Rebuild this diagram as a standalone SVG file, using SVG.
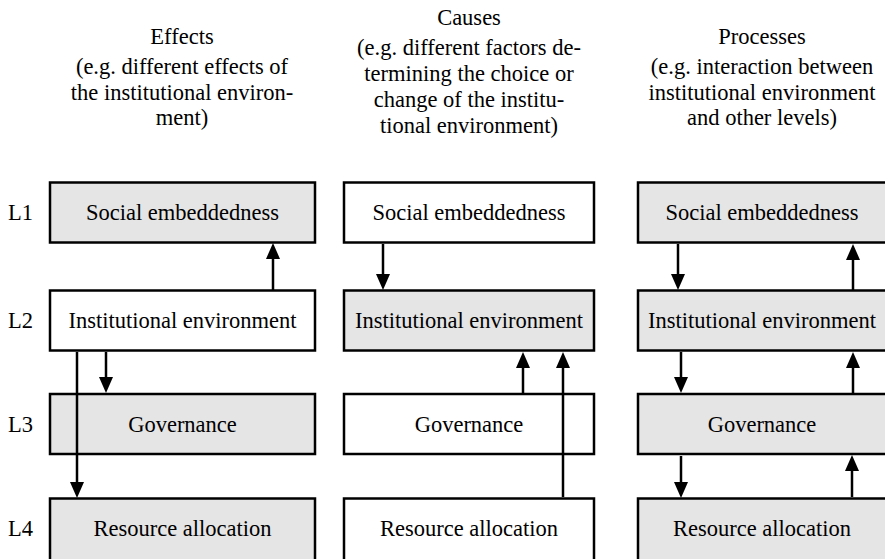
<svg xmlns="http://www.w3.org/2000/svg" width="885" height="559" viewBox="0 0 885 559">
  <style>
    text { font-family: "Liberation Serif", Tinos, "Times New Roman", "DejaVu Serif", serif; font-size: 22.5px; fill: #000; }
    .c { text-anchor: middle; }
    .box { stroke: #000; stroke-width: 2.5; }
    .grey { fill: #e5e5e5; }
    .white { fill: #fff; }
    .arr { stroke: #000; stroke-width: 2.5; fill: none; marker-end: url(#head); }
  </style>
  <defs>
    <marker id="head" markerUnits="userSpaceOnUse" markerWidth="16" markerHeight="14" viewBox="0 0 16 14" refX="1" refY="7" orient="auto">
      <path d="M0,0 L16,7 L0,14 Z" fill="#000"/>
    </marker>
  </defs>
  <rect width="885" height="559" fill="#fff"/>

  <!-- column headings -->
  <g id="head-effects">
    <text class="c" x="182" y="44">Effects</text>
    <text class="c" x="182" y="74">(e.g. different effects of</text>
    <text class="c" x="182" y="100">the institutional environ-</text>
    <text class="c" x="182" y="125">ment)</text>
  </g>
  <g id="head-causes">
    <text class="c" x="469" y="25">Causes</text>
    <text class="c" x="469" y="55">(e.g. different factors de-</text>
    <text class="c" x="469" y="81">termining the choice or</text>
    <text class="c" x="469" y="107">change of the institu-</text>
    <text class="c" x="469" y="133">tional environment)</text>
  </g>
  <g id="head-processes">
    <text class="c" x="762" y="44">Processes</text>
    <text class="c" x="762" y="74">(e.g. interaction between</text>
    <text class="c" x="762" y="100">institutional environment</text>
    <text class="c" x="762" y="125">and other levels)</text>
  </g>

  <!-- level labels -->
  <g id="levels">
    <text x="8" y="220">L1</text>
    <text x="8" y="328">L2</text>
    <text x="8" y="432">L3</text>
    <text x="8" y="536">L4</text>
  </g>

  <!-- Effects column -->
  <g id="e-l1"><rect class="box grey" x="50" y="182.5" width="265" height="60"/><text class="c" x="182.5" y="220">Social embeddedness</text></g>
  <g id="e-l2"><rect class="box white" x="50" y="290.5" width="265" height="60"/><text class="c" x="182.5" y="328">Institutional environment</text></g>
  <g id="e-l3"><rect class="box grey" x="50" y="394" width="265" height="60"/><text class="c" x="182.5" y="432">Governance</text></g>
  <g id="e-l4"><rect class="box grey" x="50" y="498.5" width="265" height="70"/><text class="c" x="182.5" y="536">Resource allocation</text></g>

  <!-- Causes column -->
  <g id="c-l1"><rect class="box white" x="344" y="182.5" width="250" height="60"/><text class="c" x="469" y="220">Social embeddedness</text></g>
  <g id="c-l2"><rect class="box grey" x="344" y="290.5" width="250" height="60"/><text class="c" x="469" y="328">Institutional environment</text></g>
  <g id="c-l3"><rect class="box white" x="344" y="394" width="250" height="60"/><text class="c" x="469" y="432">Governance</text></g>
  <g id="c-l4"><rect class="box white" x="344" y="498.5" width="250" height="70"/><text class="c" x="469" y="536">Resource allocation</text></g>

  <!-- Processes column -->
  <g id="p-l1"><rect class="box grey" x="638" y="182.5" width="250" height="60"/><text class="c" x="762" y="220">Social embeddedness</text></g>
  <g id="p-l2"><rect class="box grey" x="638" y="290.5" width="250" height="60"/><text class="c" x="762" y="328">Institutional environment</text></g>
  <g id="p-l3"><rect class="box grey" x="638" y="394" width="250" height="60"/><text class="c" x="762" y="432">Governance</text></g>
  <g id="p-l4"><rect class="box grey" x="638" y="498.5" width="250" height="70"/><text class="c" x="762" y="536">Resource allocation</text></g>

  <!-- connectors -->
  <g id="connectors">
    <path class="arr" d="M273,290 V258"/>
    <path class="arr" d="M106,352 V378"/>
    <path class="arr" d="M77,352 V483"/>

    <path class="arr" d="M383,244 V275"/>
    <path class="arr" d="M523,393 V367"/>
    <path class="arr" d="M563,497 V367"/>

    <path class="arr" d="M678,244 V275"/>
    <path class="arr" d="M853,290 V259"/>
    <path class="arr" d="M681,352 V378"/>
    <path class="arr" d="M853,393 V367"/>
    <path class="arr" d="M681,456 V483"/>
    <path class="arr" d="M852,497 V470"/>
  </g>
</svg>
